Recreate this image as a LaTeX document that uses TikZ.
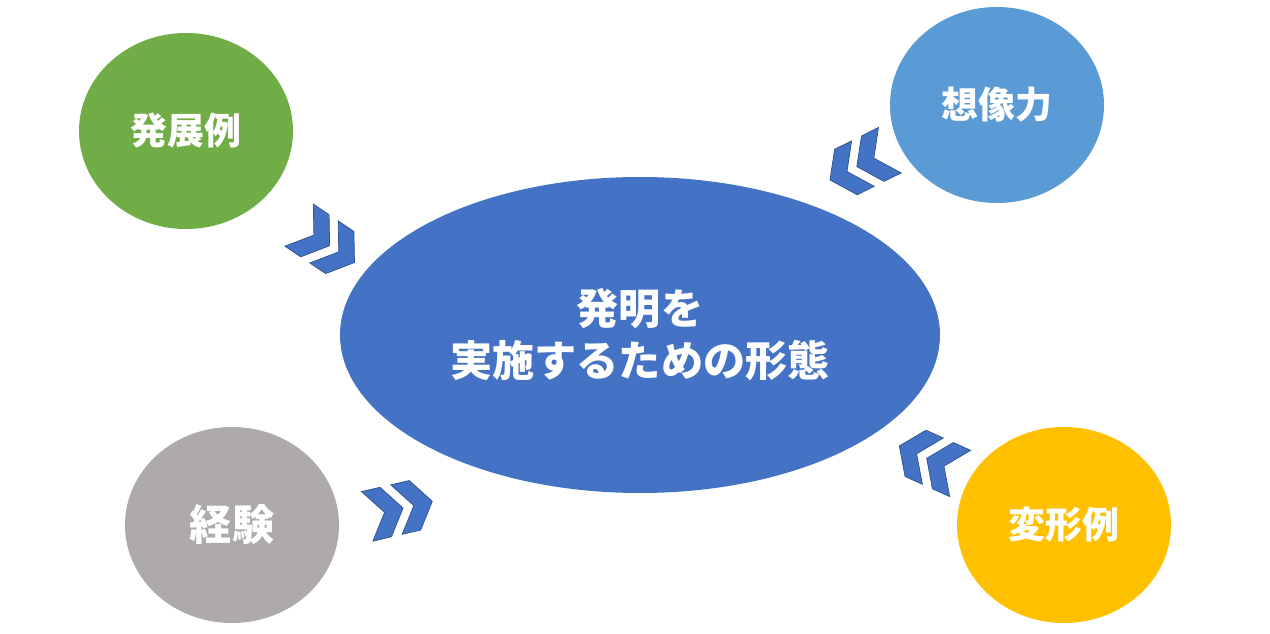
\documentclass[tikz,border=0pt]{standalone}
\usepackage{fontspec}
\newfontfamily\jp{Noto Sans CJK JP}
\usepackage{tikz}
\usetikzlibrary{shapes.geometric}
\definecolor{mainblue}{RGB}{68, 114, 196}
\definecolor{edgeblue}{RGB}{47, 82, 143}
\definecolor{leafgreen}{RGB}{112, 173, 71}
\definecolor{skyblue}{RGB}{91, 155, 213}
\definecolor{stonegray}{RGB}{174, 170, 170}
\definecolor{gold}{RGB}{255, 192, 0}

\tikzset{
  blob/.style={ellipse, inner sep=0, text=white, font=\jp\bfseries\fontsize{21}{25}\selectfont,
    minimum width=4.28cm, minimum height=3.92cm},
  chev/.style={fill=mainblue, draw=edgeblue, line width=0.4pt}
}

\begin{document}
\begin{tikzpicture}[scale=1.0]
  \useasboundingbox (0, 0) rectangle (25.4, 12.66);

  \node[ellipse, fill=mainblue, inner sep=0, minimum width=12cm, minimum height=6.32cm,
    text=white, align=center, font=\jp\bfseries\fontsize{24}{29.5}\selectfont]
    (form) at (12.8, 5.96) {発明を\\実施するための形態};

  \node[blob, fill=leafgreen] (devel) at (3.72, 10.04) {発展例};
  \node[blob, fill=skyblue] (imag) at (19.94, 10.56) {想像力};
  \node[blob, fill=stonegray, font=\jp\bfseries\fontsize{24}{28}\selectfont] (exper) at (4.64, 2.16) {経験};
  \node[blob, fill=gold] (modif) at (21.28, 2.16) {変形例};

  % double chevrons, front tip and angle
  \foreach \x/\y/\a in {7.09/7.41/-34, 16.6/9.06/206.5, 8.646/2.634/13, 17.986/3.74/155.7} {
    \foreach \k in {0, 1} {
      \begin{scope}[shift={(\x, \y)}, rotate=\a, xshift=-0.6*\k cm]
        \draw[chev] (0, 0) -- (-0.356, 0.508) -- (-0.736, 0.508) -- (-0.38, 0)
          -- (-0.736, -0.508) -- (-0.356, -0.508) -- cycle;
      \end{scope}
    }
  }

\end{tikzpicture}
\end{document}
